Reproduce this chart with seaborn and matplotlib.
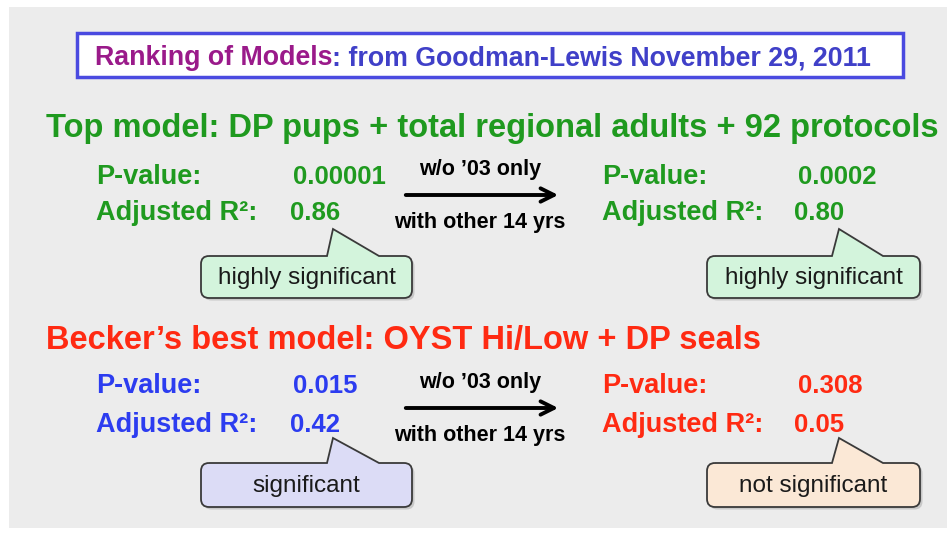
import matplotlib
matplotlib.use("Agg")
import matplotlib.pyplot as plt
import seaborn as sns
from matplotlib.path import Path
from matplotlib.patches import PathPatch, Rectangle

# ==============================================================
# DATA
# ==============================================================
title_left = "Ranking of Models"
title_right = ": from Goodman-Lewis November 29, 2011"

model_names = ["Top model: DP pups + total regional adults + 92 protocols",
               "Becker\u2019s best model: OYST Hi/Low + DP seals"]
row_labels = ["P-value:", "Adjusted R\u00b2:"]
arrow_top = "w/o \u201903 only"
arrow_bottom = "with other 14 yrs"

p_all = ["0.00001", "0.015"]
r2_all = ["0.86", "0.42"]
p_wo03 = ["0.0002", "0.308"]
r2_wo03 = ["0.80", "0.05"]
verdict_all = ["highly significant", "significant"]
verdict_wo03 = ["highly significant", "not significant"]

# ==============================================================
# STYLE
# ==============================================================
sns.set_theme(style="white")
plt.rcParams['font.family'] = ['Liberation Sans', 'DejaVu Sans']

GREEN = "#1f9a1f"
RED = "#ff2a12"
BLUE = "#2c3cf0"
heading_colors = [GREEN, RED]
left_colors = [GREEN, BLUE]
right_colors = [GREEN, RED]
left_fill = ["#d3f4dc", "#dcdcf6"]
right_fill = ["#d3f4dc", "#fbe8d6"]

LABEL_FS = 19.5
VALUE_FS = 18.5

fig = plt.figure(figsize=(9.53, 5.34), dpi=100)
ax = fig.add_axes([0, 0, 1, 1])
ax.set_xlim(0, 953)
ax.set_ylim(534, 0)
ax.axis("off")

# slide background
ax.add_patch(Rectangle((9, 7), 938, 521, facecolor="#ececec", edgecolor="none", zorder=0))

# title box
ax.add_patch(Rectangle((77, 33), 826, 44, facecolor="white", edgecolor="#4a4ae0", lw=2.5, zorder=1))
t1 = ax.text(95, 65, title_left, color="#9a1a8a", fontsize=19.3, fontweight="bold",
             va="baseline", zorder=2)
ax.annotate(title_right, xy=(1, 0), xycoords=t1, va="bottom", ha="left", color="#4040c8",
            fontsize=19.3, fontweight="bold", zorder=2)


def callout(x0, y0, x1, y1, tip, base, fill):
    # rounded box with a pointer on its top edge
    r = 8
    bl, br = base
    verts = [(x0 + r, y0), (bl, y0), tip, (br, y0), (x1 - r, y0),
             (x1, y0), (x1, y0 + r), (x1, y1 - r),
             (x1, y1), (x1 - r, y1), (x0 + r, y1),
             (x0, y1), (x0, y1 - r), (x0, y0 + r),
             (x0, y0), (x0 + r, y0)]
    codes = [Path.MOVETO, Path.LINETO, Path.LINETO, Path.LINETO, Path.LINETO,
             Path.CURVE3, Path.CURVE3, Path.LINETO,
             Path.CURVE3, Path.CURVE3, Path.LINETO,
             Path.CURVE3, Path.CURVE3, Path.LINETO,
             Path.CURVE3, Path.CURVE3]
    shadow = [(vx + 2.5, vy + 2.5) for vx, vy in verts]
    ax.add_patch(PathPatch(Path(shadow, codes), facecolor="#b0b0b0", edgecolor="none", alpha=0.6, zorder=3))
    ax.add_patch(PathPatch(Path(verts, codes), facecolor=fill, edgecolor="#3a3a3a", lw=1.3, zorder=4))


# ==============================================================
# TWO MODEL BLOCKS
# ==============================================================
heading_y = [137, 349]
row1_y = [184, 393]
row2_y = [220, 432]
arrow_y = [195, 408]
box_y = [(256, 298), (463, 507)]
tip_y = [229, 438]

for i in range(2):
    ax.text(46, heading_y[i], model_names[i], color=heading_colors[i], fontsize=23.5,
            fontweight="bold", va="baseline")

    # left statistics (all years)
    ax.text(96, row1_y[i], row_labels[0], color=left_colors[i], fontsize=LABEL_FS, fontweight="bold", va="baseline")
    ax.text(96, row2_y[i], row_labels[1], color=left_colors[i], fontsize=LABEL_FS, fontweight="bold", va="baseline")
    ax.text(293, row1_y[i], p_all[i], color=left_colors[i], fontsize=VALUE_FS, fontweight="bold", va="baseline")
    ax.text(290, row2_y[i], r2_all[i], color=left_colors[i], fontsize=VALUE_FS, fontweight="bold", va="baseline")

    # arrow
    ax.annotate("", xy=(561, arrow_y[i]), xytext=(403, arrow_y[i]),
                arrowprops=dict(arrowstyle="->", color="black", lw=2.8, mutation_scale=24))
    ax.text(480, arrow_y[i] - 20, arrow_top, color="black", fontsize=15.5, fontweight="bold",
            ha="center", va="baseline")
    ax.text(480, arrow_y[i] + 33, arrow_bottom, color="black", fontsize=15.5, fontweight="bold",
            ha="center", va="baseline")

    # right statistics (without 2003)
    ax.text(602, row1_y[i], row_labels[0], color=right_colors[i], fontsize=LABEL_FS, fontweight="bold", va="baseline")
    ax.text(602, row2_y[i], row_labels[1], color=right_colors[i], fontsize=LABEL_FS, fontweight="bold", va="baseline")
    ax.text(798, row1_y[i], p_wo03[i], color=right_colors[i], fontsize=VALUE_FS, fontweight="bold", va="baseline")
    ax.text(794, row2_y[i], r2_wo03[i], color=right_colors[i], fontsize=VALUE_FS, fontweight="bold", va="baseline")

    # callouts
    ya, yb = box_y[i]
    callout(201, ya, 412, yb, (333, tip_y[i]), (327, 379), left_fill[i])
    ax.text(306.5, (ya + yb) / 2 + 1, verdict_all[i], fontsize=17.5, color="#1a1a1a",
            ha="center", va="center", zorder=5)
    callout(707, ya, 920, yb, (839, tip_y[i]), (832, 883), right_fill[i])
    ax.text(813.5, (ya + yb) / 2 + 1, verdict_wo03[i], fontsize=17.5, color="#1a1a1a",
            ha="center", va="center", zorder=5)

fig.savefig("out.png", dpi=100)
